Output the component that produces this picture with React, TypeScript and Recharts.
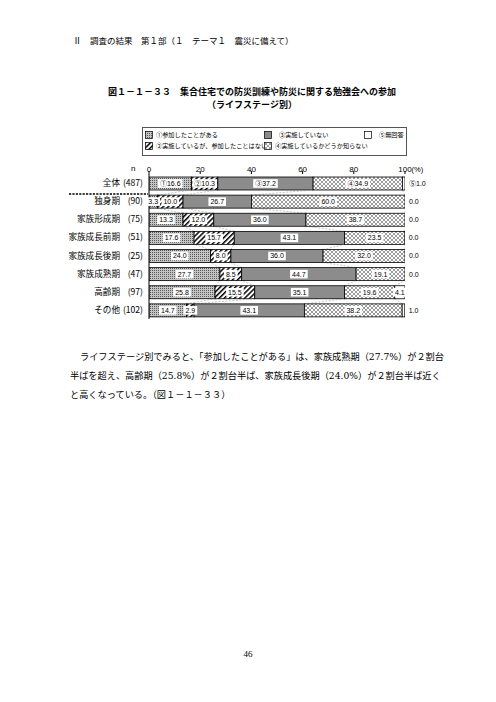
import React from 'react';
import { BarChart, Bar, XAxis, YAxis, LabelList } from 'recharts';

const stages = ['全体', '独身期', '家族形成期', '家族成長前期', '家族成長後期', '家族成熟期', '高齢期', 'その他'];
const counts = [487, 90, 75, 51, 25, 47, 97, 102];
const joined = [16.6, 3.3, 13.3, 17.6, 24.0, 27.7, 25.8, 14.7];
const notJoined = [10.3, 10.0, 12.0, 15.7, 8.0, 8.5, 15.5, 2.9];
const notHeld = [37.2, 26.7, 36.0, 43.1, 36.0, 44.7, 35.1, 43.1];
const unknown = [34.9, 60.0, 38.7, 23.5, 32.0, 19.1, 19.6, 38.2];
const noAnswer = [1.0, 0.0, 0.0, 0.0, 0.0, 0.0, 4.1, 1.0];
const xTicks = [0, 20, 40, 60, 80, 100];

const seriesKeys = ['joined', 'notJoined', 'notHeld', 'unknown', 'noAnswer'];
const seriesNames = [
  '①参加したことがある',
  '②実施しているが、参加したことはない',
  '③実施していない',
  '④実施しているかどうか知らない',
  '⑤無回答',
];
const marks = ['①', '②', '③', '④', '⑤'];
const fills = ['url(#pDots)', 'url(#pHatch)', '#8c8c8c', 'url(#pCross)', '#ffffff'];
const columns = [joined, notJoined, notHeld, unknown, noAnswer];

const data = stages.map((name, i) => ({
  name,
  n: counts[i],
  joined: joined[i],
  notJoined: notJoined[i],
  notHeld: notHeld[i],
  unknown: unknown[i],
  noAnswer: noAnswer[i],
}));

const JP = '"Noto Sans CJK JP", sans-serif';
const NUM = '"Liberation Sans", "Noto Sans CJK JP", sans-serif';
const SERIF = '"DejaVu Serif", "Noto Sans CJK JP", serif';

const CHART_W = 430;
const CHART_H = 159;
const AXIS_H = 14;
const BAR = 13;
const BAND = (CHART_H - AXIS_H) / stages.length;

const cum = (row: number, upto: number) => {
  let s = 0;
  for (let j = 0; j < upto; j++) s += columns[j][row];
  return s;
};

const makeShape = (j: number) => (props: any) => {
  const { x, y, width, height, fill, index } = props;
  const v = columns[j][index];
  const w = Math.max(width || 0, 0);
  let connector = null;
  if (index > 0 && j < 4 && v > 0) {
    const k = w / v;
    const left = x - cum(index, j) * k;
    const prevX = left + cum(index - 1, j + 1) * k;
    connector = (
      <line x1={x + w} y1={y} x2={prevX} y2={y - (BAND - BAR)} stroke="#a0a0a0" strokeWidth={0.6} strokeDasharray="2 1.5" />
    );
  }
  return (
    <g>
      {connector}
      {w > 0 && <rect x={x} y={y} width={w} height={height} fill={fill} stroke="#000" strokeWidth={0.8} />}
    </g>
  );
};

const makeLabel = (j: number) => (props: any) => {
  const vb = props.viewBox || {};
  const x = props.x ?? vb.x;
  const y = props.y ?? vb.y;
  const width = props.width ?? vb.width ?? 0;
  const height = props.height ?? vb.height ?? BAR;
  const index = props.index;
  const v = columns[j][index];
  const text = (index === 0 ? marks[j] : '') + v.toFixed(1);
  const cy = y + height / 2;
  if (j === 4 && v < 3) {
    return (
      <text x={x + width + 4} y={cy} dy="0.35em" fontSize={7} fontFamily={NUM} fill="#000">
        {text}
      </text>
    );
  }
  const cx = x + width / 2;
  const bw = v.toFixed(1).length * 3.9 + (index === 0 ? 7 : 0) + 2;
  return (
    <g>
      <rect x={cx - bw / 2} y={cy - 4.3} width={bw} height={8.6} fill="#fff" />
      <text x={cx} y={cy} dy="0.35em" textAnchor="middle" fontSize={7} fontFamily={NUM} fill="#000">
        {text}
      </text>
    </g>
  );
};

const XTick = (props: any) => {
  const { x, y, payload } = props;
  return (
    <g>
      <text x={x} y={y + 1} textAnchor="middle" fontSize={8} fontFamily={NUM} fill="#000">
        {payload.value}
      </text>
      {payload.value === 100 && (
        <text x={x + 6.5} y={y + 1} fontSize={7.5} fontFamily={NUM} fill="#000">
          (%)
        </text>
      )}
    </g>
  );
};

const YTick = (props: any) => {
  const { x, y, payload, index } = props;
  return (
    <g fontSize={8.6} fontFamily={JP} fill="#000">
      <text x={x - 23} y={y} dy="0.35em" textAnchor="end">{payload.value}</text>
      <text x={x} y={y} dy="0.35em" textAnchor="end">({counts[index]})</text>
    </g>
  );
};

const Swatch = ({ fill }: { fill: string }) => (
  <svg width={8} height={8} style={{ display: 'block' }}>
    <rect x={0.4} y={0.4} width={7.2} height={7.2} fill={fill} stroke="#000" strokeWidth={0.7} />
  </svg>
);

const legendCols = [2, 121, 221];

const para = {
  position: 'absolute' as const,
  fontSize: 9.2,
  lineHeight: '14px',
  whiteSpace: 'nowrap' as const,
  fontFamily: SERIF,
};

export default function App() {
  return (
    <div style={{ position: 'absolute', left: 0, top: 0, width: 496, height: 702, background: '#fff', fontFamily: JP, color: '#000' }}>
      <svg width={0} height={0} style={{ position: 'absolute' }}>
        <defs>
          <pattern id="pDots" width={2} height={2} patternUnits="userSpaceOnUse">
            <rect width={2} height={2} fill="#c4c4c4" />
            <rect width={1} height={1} fill="#5a5a5a" />
          </pattern>
          <pattern id="pHatch" width={3.6} height={3.6} patternUnits="userSpaceOnUse" patternTransform="rotate(45)">
            <rect width={3.6} height={3.6} fill="#fff" />
            <rect width={1.5} height={3.6} fill="#000" />
          </pattern>
          <pattern id="pCross" width={4} height={4} patternUnits="userSpaceOnUse">
            <rect width={4} height={4} fill="#fff" />
            <path d="M0,0 L4,4 M4,0 L0,4" stroke="#707070" strokeWidth={0.7} />
          </pattern>
        </defs>
      </svg>

      <div style={{ position: 'absolute', left: 73, top: 34, fontSize: 8.5, whiteSpace: 'pre', lineHeight: '12px' }}>
        Ⅱ　調査の結果　第１部（１　テーマ１　震災に備えて）
      </div>

      <div style={{ position: 'absolute', left: 0, top: 85, width: 504, textAlign: 'center', fontSize: 9, fontWeight: 'bold', lineHeight: '13px', whiteSpace: 'pre' }}>
        {'図１－１－３３　集合住宅での防災訓練や防災に関する勉強会への参加\n（ライフステージ別）'}
      </div>

      <div style={{ position: 'absolute', left: 142, top: 127, width: 265, height: 29, border: '1px solid #555', boxSizing: 'border-box' }}>
        {seriesNames.map((name, i) => (
          <div
            key={name}
            style={{
              position: 'absolute',
              left: legendCols[Math.floor(i / 2)],
              top: 3 + (i % 2) * 11,
              display: 'flex',
              alignItems: 'center',
              fontSize: 6.2,
              lineHeight: '8px',
              whiteSpace: 'nowrap',
            }}
          >
            <Swatch fill={fills[i]} />
            <span style={{ marginLeft: i % 2 === 0 && i > 0 ? 7 : 3 }}>{name}</span>
          </div>
        ))}
      </div>

      <div style={{ position: 'absolute', left: 131, top: 164, fontSize: 8, fontFamily: NUM }}>n</div>

      <svg width={80} height={4} style={{ position: 'absolute', left: 69, top: 192 }}>
        <line x1={0} y1={2} x2={79} y2={2} stroke="#000" strokeWidth={1.4} strokeDasharray="2.2 1.2" />
      </svg>

      <div style={{ position: 'absolute', left: 0, top: 160 }}>
        <BarChart
          width={CHART_W}
          height={CHART_H}
          data={data}
          layout="vertical"
          margin={{ top: 0, right: 25, bottom: 0, left: 0 }}
          barSize={BAR}
        >
          <XAxis
            type="number"
            orientation="top"
            domain={[0, 100]}
            ticks={xTicks}
            allowDataOverflow
            height={AXIS_H}
            axisLine={false}
            tickLine={{ stroke: '#000' }}
            tickSize={3}
            tickMargin={0}
            tick={<XTick />}
          />
          <YAxis
            type="category"
            dataKey="name"
            width={149}
            axisLine={{ stroke: '#000', strokeWidth: 1 }}
            tickLine={false}
            tickSize={0}
            tickMargin={6}
            tick={<YTick />}
            interval={0}
          />
          {seriesKeys.map((key, j) => (
            <Bar
              key={key}
              dataKey={key}
              name={seriesNames[j]}
              stackId="a"
              fill={fills[j]}
              shape={makeShape(j)}
              isAnimationActive={false}
            >
              <LabelList dataKey={key} content={makeLabel(j)} />
            </Bar>
          ))}
        </BarChart>
      </div>

      <div style={{ ...para, left: 80, top: 350, width: 343, textAlign: 'justify', textAlignLast: 'justify' }}>
        ライフステージ別でみると、「参加したことがある」は、家族成熟期（27.7%）が２割台
      </div>
      <div style={{ ...para, left: 70, top: 369, width: 353, textAlign: 'justify', textAlignLast: 'justify' }}>
        半ばを超え、高齢期（25.8%）が２割台半ば、家族成長後期（24.0%）が２割台半ば近く
      </div>
      <div style={{ ...para, left: 70, top: 388 }}>
        と高くなっている。（図１－１－３３）
      </div>

      <div style={{ position: 'absolute', left: 0, top: 649, width: 496, textAlign: 'center', fontSize: 9, fontFamily: '"Liberation Serif", serif' }}>
        46
      </div>
    </div>
  );
}
